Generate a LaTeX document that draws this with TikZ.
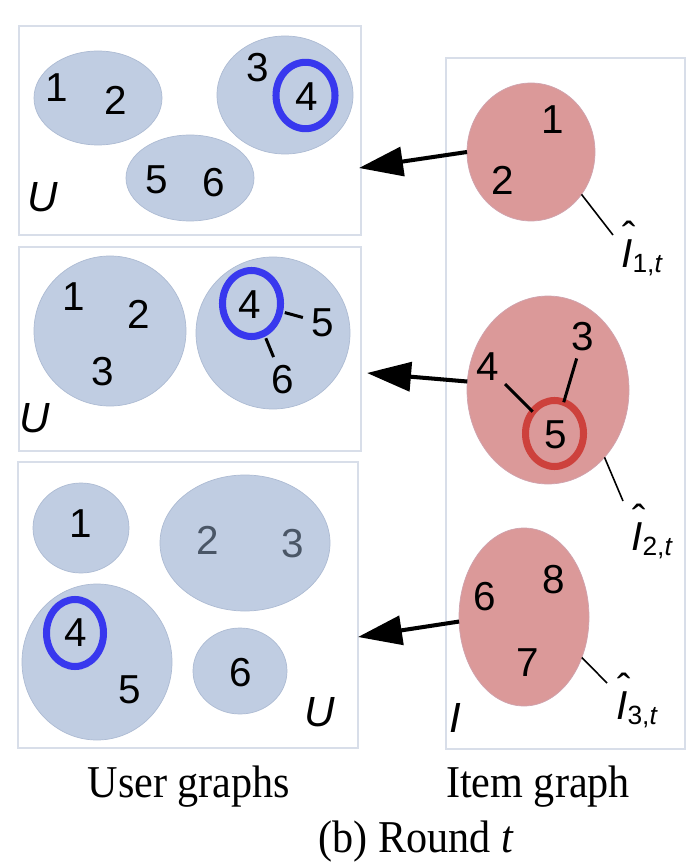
\documentclass[tikz,border=0pt]{standalone}
\usepackage{fontspec}
\setmainfont{Liberation Serif}
\newfontfamily\labfont{Liberation Sans}
\usetikzlibrary{shapes.geometric,arrows.meta}

\definecolor{userblue}{HTML}{C0CDE2}
\definecolor{userline}{HTML}{ADBBD3}
\definecolor{itemred}{HTML}{DB9999}
\definecolor{itemline}{HTML}{CFA3AE}
\definecolor{ringblue}{HTML}{3838EE}
\definecolor{ringred}{HTML}{CD413C}
\definecolor{framegray}{HTML}{D8DEE9}
\definecolor{dimtext}{HTML}{4A5666}

\begin{document}
\begin{tikzpicture}[x=0.2mm,y=-0.2mm,>={Triangle[length=8.8mm,width=5.8mm]},
  radii/.style 2 args={minimum width=#1*0.4mm,minimum height=#2*0.4mm}]
 \tikzstyle{frame} = [draw=framegray,line width=0.6pt]
 \tikzstyle{ugroup} = [ellipse,fill=userblue,draw=userline,line width=0.4pt,inner sep=0,outer sep=0]
 \tikzstyle{igroup} = [ellipse,fill=itemred,draw=itemline,line width=0.4pt,inner sep=0,outer sep=0]
 \tikzstyle{num} = [font=\labfont\fontsize{23}{23}\selectfont,inner sep=1pt]
 \tikzstyle{setname} = [font=\labfont\itshape\fontsize{24}{24}\selectfont,inner sep=0]
 \tikzstyle{ring} = [ellipse,line width=4pt,inner sep=0,outer sep=0]
 \tikzstyle{link} = [line width=1.7pt,shorten >=4pt,shorten <=3pt]
 \tikzstyle{leader} = [line width=0.9pt]
 \tikzstyle{push} = [->,line width=2.3pt]
 \tikzstyle{caption} = [font=\fontsize{24}{24}\selectfont,anchor=base,inner sep=0]
 \newcommand{\ihat}[1]{\makebox[0pt][l]{\hspace{0.03em}\raisebox{0.4em}{\char"02C6}}%
   {\itshape I}\raisebox{-3pt}{\fontsize{15}{15}\selectfont #1,\itshape t}}
 \newcommand{\tall}[1]{\scalebox{1}[1.08]{#1}}

 \useasboundingbox (0,0) rectangle (692,866);

% Frames
 \draw[frame] (19,26) rectangle (361,235);
 \draw[frame] (19,247) rectangle (361,451);
 \draw[frame] (18,462) rectangle (358,748);
 \draw[frame] (446,58) rectangle (685,749);

% User graphs, first
 \node[ugroup,radii={64}{47}] (ua) at (98,98) {};
 \node[ugroup,radii={68}{59}] (ub) at (285,95) {};
 \node[ugroup,radii={64}{43}] (uc) at (190,178) {};
 \node[num] (a1) at (57,88) {1};
 \node[num] (a2) at (116,100) {2};
 \node[num] (a3) at (258,68) {3};
 \node[num] (a4) at (307,97) {4};
 \node[num] (a5) at (157,180) {5};
 \node[num] (a6) at (214,183) {6};
 \node[ring,draw=ringblue,radii={29.5}{33.2}] (ring1) at (305.5,95.5) {};
 \node[setname] (ua-name) at (43,197) {U};

% User graphs, second
 \node[ugroup,radii={76}{75}] (ud) at (110,331) {};
 \node[ugroup,radii={77}{76}] (ue) at (273,333) {};
 \node[num] (b1) at (74,297) {1};
 \node[num] (b2) at (139,314) {2};
 \node[num] (b3) at (103,372) {3};
 \node[num] (b4) at (250,305) {4};
 \node[num] (b5) at (323,323) {5};
 \node[num] (b6) at (283,380) {6};
 \node[ring,draw=ringblue,radii={29}{33}] (ring2) at (251.5,303.5) {};
 \draw[link] (ring2) -- (b5);
 \draw[link] (ring2) -- (b6);
 \node[setname] (ub-name) at (35,418) {U};

% User graphs, third
 \node[ugroup,radii={48}{45}] (uf) at (81,528) {};
 \node[ugroup,radii={85}{68}] (ug) at (245,543) {};
 \node[ugroup,radii={75}{78}] (uh) at (97,662) {};
 \node[ugroup,radii={47}{43}] (ui) at (240,671) {};
 \node[num] (c1) at (81,524) {1};
 \node[num,dimtext] (c2) at (208,540) {2};
 \node[num,dimtext] (c3) at (293,544) {3};
 \node[num] (c4) at (76,633) {4};
 \node[num] (c5) at (130,690) {5};
 \node[num] (c6) at (241,673) {6};
 \node[ring,draw=ringblue,radii={28.5}{33.5}] (ring3) at (75,633) {};
 \node[setname] (uc-name) at (320,712) {U};

% Item graph
 \node[igroup,radii={64}{69}] (r1) at (531,152) {};
 \node[igroup,radii={81}{94}] (r2) at (548,390) {};
 \node[igroup,radii={65}{89}] (r3) at (524,617) {};
 \node[num] (i1) at (553,120) {1};
 \node[num] (i2) at (503,180) {2};
 \node[num] (i3) at (583,337) {3};
 \node[num] (i4) at (488,367) {4};
 \node[num] (i5) at (556,435) {5};
 \node[num] (i6) at (485,597) {6};
 \node[num] (i7) at (528,663) {7};
 \node[num] (i8) at (554,580) {8};
 \node[ring,draw=ringred,radii={29}{33}] (ring5) at (554.5,433.5) {};
 \draw[link,shorten >=0pt] (i4) -- (ring5);
 \draw[link,shorten >=0pt] (i3) -- (ring5);
 \node[setname] (ia-name) at (455,718) {I};

% Clusters
 \coordinate (k1) at (613,235);
 \coordinate (k2) at (623,501);
 \coordinate (k3) at (607,683);
 \draw[leader] (r1.-40) -- (k1);
 \draw[leader] (r2.-50) -- (k2);
 \draw[leader] (r3.-35) -- (k3);
 \node[num,anchor=base west,inner sep=0] (h1) at (621,267) {\ihat{1}};
 \node[num,anchor=base west,inner sep=0] (h2) at (631,550) {\ihat{2}};
 \node[num,anchor=base west,inner sep=0] (h3) at (616,719) {\ihat{3}};

% Arrows
 \coordinate (t1) at (359,168);
 \coordinate (t2) at (367,373);
 \coordinate (t3) at (358,637);
 \draw[push] (r1.180) -- (t1);
 \draw[push] (r2.174) -- (t2);
 \draw[push] (r3.184) -- (t3);

% Captions
 \node[caption] (cap-user) at (189,797) {\tall{User graphs}};
 \node[caption] (cap-item) at (538,797) {\tall{Item graph}};
 \node[caption] (cap-round) at (416,852) {\tall{(b) Round \textit{t}}};
\end{tikzpicture}
\end{document}
